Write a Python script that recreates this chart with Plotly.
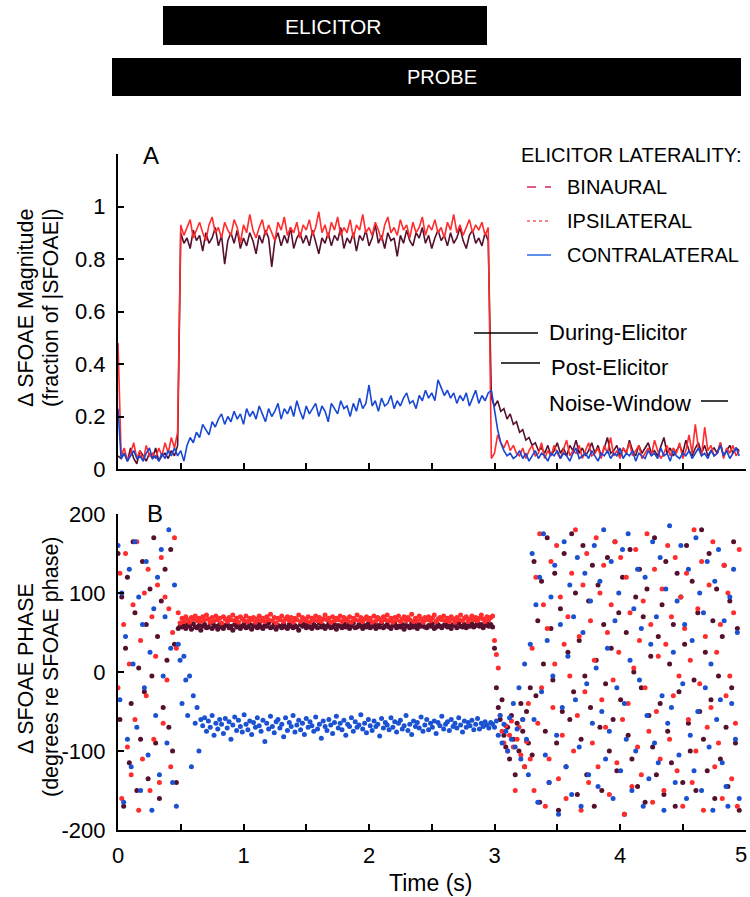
import plotly.graph_objects as go

W, H = 750, 897
def px(x): return x / W
def py(y): return 1 - y / H

FONT = "Liberation Sans, Arial, Helvetica, sans-serif"
C_BIN = "#55102e"
C_IPSI = "#ff2d2d"
C_CONTRA = "#1747d4"
C_CONTRA_DOT = "#1a52d2"

# ---------------- Panel A data (magnitude, fraction of |SFOAE|) ----------------
A_STEP = 0.025
A_T0 = [0.0, 0.5, 2.975]   # segment start times: pre-elicitor, during, post

ipsi_a_pre = [.48,.05,.08,.03,.06,.10,.04,.07,.03,.09,.05,.06,.04,.08,.05,.10,.06,.12,.08,.14]
ipsi_a_during = [
 .93,.89,.92,.95,.88,.91,.94,.90,.87,.93,
 .96,.90,.92,.88,.94,.91,.89,.95,.92,.86,
 .93,.90,.97,.91,.88,.92,.95,.89,.93,.90,
 .87,.94,.91,.96,.89,.92,.90,.94,.88,.93,
 .91,.95,.89,.92,.98,.90,.93,.88,.94,.91,
 .96,.89,.92,.90,.95,.88,.93,.91,.97,.90,
 .92,.89,.94,.91,.87,.93,.96,.90,.92,.89,
 .95,.91,.93,.88,.94,.90,.92,.96,.89,.93,
 .91,.95,.90,.92,.88,.94,.91,.97,.90,.93,
 .89,.92,.95,.90,.93,.91,.94,.89,.92]
ipsi_a_post = [
 .04,.06,.13,.10,.08,.11,.07,.09,.06,.05,
 .08,.04,.07,.09,.05,.06,.10,.04,.07,.05,
 .09,.06,.04,.08,.11,.05,.07,.06,.09,.04,
 .07,.10,.05,.06,.08,.04,.09,.06,.12,.05,
 .07,.04,.08,.06,.10,.05,.07,.09,.04,.06,
 .08,.05,.11,.07,.04,.06,.09,.05,.08,.06,
 .10,.04,.07,.13,.06,.17,.08,.05,.16,.07,
 .09,.05,.06,.10,.04,.08,.06,.09,.05,.07]

bin_a_pre = [.05,.04,.06,.03,.08,.04,.02,.07,.05,.03,.06,.04,.08,.03,.05,.06,.04,.07,.05,.09]
bin_a_during = [
 .90,.86,.88,.84,.91,.87,.89,.83,.90,.86,
 .88,.92,.85,.89,.78,.87,.90,.86,.91,.84,
 .88,.85,.90,.87,.82,.89,.86,.91,.88,.77,
 .87,.90,.85,.89,.86,.92,.84,.88,.90,.86,
 .89,.85,.91,.87,.82,.88,.86,.90,.85,.89,
 .87,.92,.84,.88,.86,.90,.83,.89,.87,.91,
 .85,.88,.93,.86,.89,.84,.90,.87,.88,.81,
 .89,.86,.91,.87,.85,.90,.88,.92,.86,.89,
 .84,.88,.91,.87,.89,.85,.90,.86,.88,.92,
 .87,.84,.89,.91,.86,.88,.85,.90,.87]
bin_a_post = [
 .27,.24,.26,.22,.23,.19,.21,.17,.18,.14,
 .15,.11,.12,.09,.10,.07,.08,.06,.09,.05,
 .07,.10,.06,.08,.05,.09,.07,.11,.06,.08,
 .05,.07,.10,.06,.09,.05,.08,.12,.06,.07,
 .09,.05,.08,.06,.11,.07,.05,.09,.06,.08,
 .10,.06,.07,.05,.09,.12,.06,.08,.05,.07,
 .09,.06,.11,.07,.05,.08,.10,.06,.09,.05,
 .07,.08,.06,.10,.05,.07,.09,.06,.08,.07]

contra_a_pre = [.23,.04,.06,.03,.05,.07,.04,.05,.03,.06,.08,.04,.05,.03,.06,.04,.07,.05,.08,.05]
contra_a_during = [
 .07,.03,.09,.12,.10,.14,.12,.17,.15,.13,
 .18,.16,.19,.21,.17,.20,.18,.22,.19,.21,
 .17,.23,.20,.22,.19,.24,.21,.18,.23,.20,
 .22,.25,.19,.23,.21,.24,.20,.26,.22,.19,
 .24,.21,.23,.25,.20,.24,.22,.18,.25,.23,
 .21,.26,.23,.24,.20,.25,.22,.27,.23,.25,
 .32,.24,.26,.22,.27,.24,.25,.28,.23,.26,
 .24,.27,.29,.25,.26,.23,.28,.26,.30,.27,
 .29,.26,.34,.31,.28,.30,.27,.29,.25,.28,
 .26,.29,.24,.27,.30,.25,.28,.26,.29]
contra_a_post = [
 .30,.22,.15,.10,.07,.05,.06,.04,.05,.07,
 .04,.06,.03,.05,.07,.04,.06,.05,.03,.06,
 .05,.07,.04,.06,.05,.03,.06,.08,.04,.05,
 .06,.04,.07,.05,.03,.06,.05,.07,.04,.06,
 .05,.08,.04,.06,.05,.07,.03,.06,.05,.04,
 .07,.05,.06,.04,.08,.05,.06,.03,.07,.05,
 .04,.06,.05,.07,.04,.06,.08,.05,.06,.04,
 .07,.05,.06,.09,.05,.07,.04,.06,.08,.05]

# ---------------- Panel B data (phase, degrees) ----------------
B_STEP = 0.015
B_T0 = [0.0, 0.51, 3.0]

ipsi_b_pre = [
 -20,125,-160,60,150,-95,10,-130,85,-60,
 165,-175,40,-110,100,-30,130,-150,70,-85,
 20,110,-140,145,-65,95,-10,80,-120,50,
 170,30,75,62]
ipsi_b_during = [
 68,64,70,66,63,69,67,71,65,68,
 64,70,66,72,67,63,69,65,71,66,
 68,62,70,67,64,69,66,72,65,68,
 63,70,67,65,71,64,68,66,69,63,
 67,71,65,68,64,70,66,73,65,69,
 62,68,66,71,64,67,70,65,69,63,
 68,66,72,64,69,67,65,70,63,68,
 66,71,65,69,64,67,72,66,68,63,
 70,65,68,66,71,64,69,67,65,70,
 63,68,66,72,65,69,64,67,70,66,
 68,63,71,65,69,67,64,70,66,72,
 65,68,63,69,66,71,64,67,70,65,
 69,66,73,64,68,65,71,67,63,69,
 66,70,65,68,72,64,67,69,66,71,
 65,68,64,70,67,63,69,66,72,65,
 68,70,64,67,71,66,69,65,68,72,
 67,64,70,66,69,71]
ipsi_b_post = [
 40,22,5,-55,-75,-90,-68,-100,-80,-62,
 -95,-150,-85,-70,-105,-60,-120,-88,-40,-110,
 30,-150,120,-65,175,-20,85,-170,55,-110,
 140,-45,10,160,-135,95,-80,35,-160,70,
 -5,125,-100,180,-55,45,-175,110,-25,150,
 -140,65,-90,15,170,-120,100,-35,135,-70,
 50,-155,85,-10,165,-115,25,145,-60,-180,
 120,-40,75,-145,5,155,-95,40,-130,90,
 -20,175,-75,60,-165,130,-50,20,-110,105,
 -150,35,160,-85,70,-30,145,-125,-5,95,
 -170,55,125,-60,15,-140,180,-100,80,-15,
 140,-175,45,-70,110,-45,165,-120,25,-90,
 60,-160,135,-30,100,-5,-135,75,-65,-170,
 155]

bin_b_pre = [
 150,-60,95,-170,30,120,-115,-40,165,75,
 -150,5,-85,140,-25,60,-135,105,-5,170,
 -90,45,-160,90,-45,130,15,-70,155,-100,
 35,-140,55,58]
bin_b_during = [
 57,59,55,60,58,54,61,57,56,59,
 53,58,60,56,57,62,55,59,58,54,
 60,57,55,59,61,56,58,53,60,57,
 59,55,58,61,56,57,60,54,59,58,
 56,61,57,55,59,58,62,56,57,60,
 54,59,58,56,61,57,55,60,58,56,
 59,57,53,60,58,61,56,59,57,55,
 60,58,56,62,57,59,55,58,61,56,
 57,60,54,59,58,56,61,57,59,55,
 58,62,56,57,60,58,55,59,57,61,
 56,58,60,55,59,57,62,56,58,60,
 57,55,59,61,56,58,57,60,54,59,
 58,56,61,57,59,55,60,58,62,57,
 56,59,58,61,55,57,60,58,56,59,
 61,57,58,55,60,59,56,62,58,57,
 60,56,59,58,61,57,59,62,58,60,
 56,59,61,58,60,57]
bin_b_post = [
 30,-20,-45,-60,-35,-80,-95,-70,-110,-55,
 -85,-130,-65,-100,-40,-75,-120,-50,-90,-20,
 -105,140,-30,65,-165,115,10,-75,170,-140,
 55,-10,125,-90,-175,80,-50,150,-120,25,
 -60,175,-25,100,-155,40,-85,160,-5,-130,
 90,-45,135,-170,15,110,-70,-150,60,-15,
 145,-100,30,-60,165,-125,75,-35,120,-180,
 50,-80,155,-110,0,95,-145,130,-20,70,
 -165,105,-55,20,-95,170,-130,45,-40,85,
 -155,140,-75,10,-115,60,-170,125,-25,95,
 -140,35,160,-65,-100,115,-10,-150,75,-50,
 180,-85,25,-125,150,-35,65,-160,105,-5,
 -110,45,135,-70,-145,90,-20,165,-90,55,
 -175]

contra_b_pre = [
 160,-35,100,-165,45,-85,130,-120,10,165,
 -70,95,-150,60,-20,140,-105,25,-175,80,
 -55,120,-130,155,-5,70,-90,180,30,-140,
 110,-170,35,15]
contra_b_during = [
 -40,20,-10,-55,-5,-120,-30,-65,-45,-100,-60,
 -68,-58,-75,-62,-70,-55,-80,-65,-72,-60,
 -66,-78,-59,-71,-63,-85,-67,-57,-74,-61,
 -69,-76,-54,-66,-73,-62,-79,-64,-70,-58,
 -68,-75,-61,-88,-65,-72,-56,-69,-77,-63,
 -60,-71,-66,-82,-58,-74,-64,-69,-55,-76,
 -67,-61,-73,-65,-79,-59,-70,-63,-68,-75,
 -57,-72,-66,-84,-62,-69,-74,-60,-67,-78,
 -64,-56,-71,-65,-73,-61,-80,-66,-69,-58,
 -75,-63,-70,-67,-54,-72,-65,-77,-60,-68,
 -74,-62,-69,-66,-81,-59,-71,-64,-67,-73,
 -58,-70,-63,-76,-65,-61,-72,-68,-55,-74,
 -66,-79,-62,-69,-64,-71,-57,-75,-67,-60,
 -73,-65,-70,-62,-78,-64,-68,-56,-72,-66,
 -63,-74,-60,-69,-65,-71,-58,-67,-76,-62,
 -70,-64,-68,-61,-73,-66,-59,-72,-65,-69,
 -63,-67,-71,-64,-66]
contra_b_post = [
 -70,-62,-80,-55,-90,-66,-75,-100,-58,-85,
 -40,-95,-72,-20,-110,-60,10,-85,-130,35,
 150,-60,85,-165,120,-25,175,-105,40,-140,
 95,-5,135,-80,-180,60,-45,165,-120,20,
 110,-155,70,-35,145,-95,-170,50,125,-15,
 -130,90,-65,160,5,-145,115,-50,180,-110,
 30,-75,140,-160,65,-20,100,-125,155,-40,
 -85,175,15,-150,80,-100,130,-10,55,-170,
 120,-55,-135,35,165,-90,70,-115,145,-30,
 -175,105,-65,185,-45,25,-140,90,-105,160,
 -15,60,-160,130,-80,40,-125,170,-50,100,
 -150,75,-20,140,-95,10,-175,115,-60,155,
 -35,-115,65,-145,-170,95,-40,130,-85,50,
 -160]

LEGEND_TITLE = "ELICITOR LATERALITY:"
LEGEND_NAMES = ["BINAURAL", "IPSILATERAL", "CONTRALATERAL"]
WINDOW_LABELS = ["During-Elicitor", "Post-Elicitor", "Noise-Window"]

A_YTICKS = [0, 0.2, 0.4, 0.6, 0.8, 1.0, 1.2]
A_YTEXT = ["0", "0.2", "0.4", "0.6", "0.8", "1", ""]
B_YTICKS = [-200, -100, 0, 100, 200]
B_YTEXT = ["-200", "-100", "0", "100", "200"]
X_TICKS = [0, 0.5, 1, 1.5, 2, 2.5, 3, 3.5, 4, 4.5, 5]
X_TEXT = ["0", "", "1", "", "2", "", "3", "", "4", "", ""]   # "5" drawn separately at edge


def series(segments, t0s, step):
    xs, ys = [], []
    for seg, t0 in zip(segments, t0s):
        xs += [round(t0 + step * k, 4) for k in range(len(seg))]
        ys += list(seg)
    return xs, ys


fig = go.Figure()

# Panel A lines
for segs, col in [((bin_a_pre, bin_a_during, bin_a_post), C_BIN),
                  ((ipsi_a_pre, ipsi_a_during, ipsi_a_post), C_IPSI),
                  ((contra_a_pre, contra_a_during, contra_a_post), C_CONTRA)]:
    x, y = series(segs, A_T0, A_STEP)
    fig.add_trace(go.Scatter(x=x, y=y, mode="lines", line=dict(color=col, width=1.6),
                             xaxis="x", yaxis="y", showlegend=False, hoverinfo="skip"))

# Panel B dots
for segs, col in [((bin_b_pre, bin_b_during, bin_b_post), C_BIN),
                  ((ipsi_b_pre, ipsi_b_during, ipsi_b_post), C_IPSI),
                  ((contra_b_pre, contra_b_during, contra_b_post), C_CONTRA_DOT)]:
    x, y = series(segs, B_T0, B_STEP)
    fig.add_trace(go.Scatter(x=x, y=y, mode="markers",
                             marker=dict(color=col, size=5, line=dict(width=0)),
                             xaxis="x2", yaxis="y2", showlegend=False, hoverinfo="skip"))

x_dom = [px(118), px(745.5)]
axis_common = dict(showline=True, linecolor="black", linewidth=2, ticks="inside",
                   ticklen=6, tickwidth=1.5, tickcolor="black", showgrid=False,
                   zeroline=False, automargin=False, ticklabeloverflow="allow",
                   tickfont=dict(family=FONT, size=22, color="black"))

fig.update_layout(
    template="none",
    width=W, height=H, margin=dict(l=0, r=0, t=0, b=0, pad=0, autoexpand=False),
    paper_bgcolor="white", plot_bgcolor="white", showlegend=False,
    font=dict(family=FONT, color="black"),
    xaxis=dict(domain=x_dom, range=[0, 5], anchor="y", tickvals=X_TICKS,
               showticklabels=False, **axis_common),
    yaxis=dict(domain=[py(469), py(154)], range=[0, 1.2], anchor="x",
               tickvals=A_YTICKS, ticktext=A_YTEXT, ticklabelstandoff=6, **axis_common),
    xaxis2=dict(domain=x_dom, range=[0, 5], anchor="y2", tickvals=X_TICKS,
                ticktext=X_TEXT, ticklabelstandoff=5, **axis_common),
    yaxis2=dict(domain=[py(830), py(514)], range=[-200, 200], anchor="x2",
                tickvals=B_YTICKS, ticktext=B_YTEXT, ticklabelstandoff=6, **axis_common),
)

shapes = []
ann = []

def text(t, x, y, size, xanchor="center", color="black", angle=0):
    ann.append(dict(text=t, x=px(x), y=py(y), xref="paper", yref="paper",
                    xanchor=xanchor, yanchor="middle", showarrow=False, textangle=angle,
                    font=dict(family=FONT, size=size, color=color)))

# Top stimulus bars
shapes.append(dict(type="rect", xref="paper", yref="paper", x0=px(163), x1=px(487),
                   y0=py(45), y1=py(6), fillcolor="black", line=dict(width=0)))
shapes.append(dict(type="rect", xref="paper", yref="paper", x0=px(112), x1=px(741),
                   y0=py(96), y1=py(58), fillcolor="black", line=dict(width=0)))
text("ELICITOR", 333, 26, 21, color="white")
text("PROBE", 442, 77, 20, color="white")

# Panel labels
text("A", 151, 155, 24)
text("B", 155, 513, 24)

# Last x tick label, kept inside the page edge
text("5", 749, 854, 22, xanchor="right")

# Axis titles
for t, xc, yc in [("Δ SFOAE Magnitude", 26, 308), ("(fraction of |SFOAE|)", 51, 308),
                  ("Δ SFOAE PHASE", 26, 669), ("(degrees re SFOAE phase)", 51, 667)]:
    text(t, xc, yc, 21.5, angle=-90)
text("Time (s)", 430, 883, 23)

# Legend
text(LEGEND_TITLE, 519, 155, 20, xanchor="left")
leg_styles = [("#d42a5a", "dash"), ("#f0606a", "dot"), ("#2a6ae0", "solid")]
for name, (col, dash), yc in zip(LEGEND_NAMES, leg_styles, [187, 221, 255]):
    shapes.append(dict(type="line", xref="paper", yref="paper", x0=px(527), x1=px(551),
                       y0=py(yc), y1=py(yc), line=dict(color=col, width=1.5, dash=dash)))
    text(name, 565, yc, 20, xanchor="left")

# Analysis-window labels
for t, xt, yt, lx0, lx1, ly in [(WINDOW_LABELS[0], 547, 332, 474, 538, 333),
                                (WINDOW_LABELS[1], 549, 367, 501, 540, 363),
                                (WINDOW_LABELS[2], 547, 403, 701, 728, 401)]:
    text(t, xt, yt, 22, xanchor="left")
    shapes.append(dict(type="line", xref="paper", yref="paper", x0=px(lx0), x1=px(lx1),
                       y0=py(ly), y1=py(ly), line=dict(color="black", width=1.5)))

fig.update_layout(shapes=shapes, annotations=ann)
fig.write_html("out.html")
